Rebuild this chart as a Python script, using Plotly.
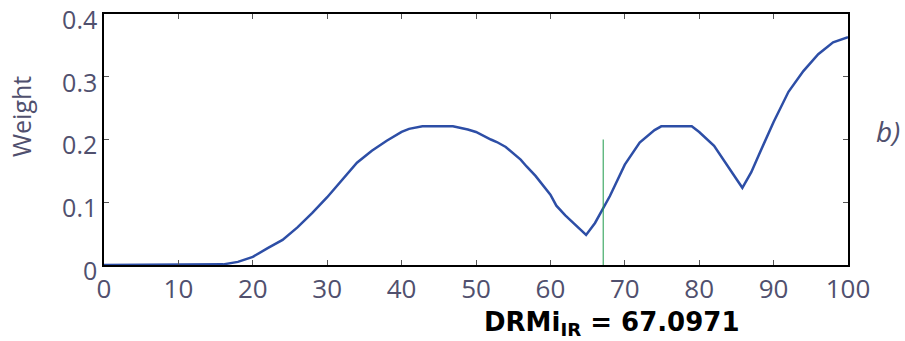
import plotly.graph_objects as go

# Weight profile over the 0-100 range
x_vals = [0, 5, 10, 15, 16, 18, 20, 22, 24, 26, 28, 30, 32, 34, 36, 38, 40, 41, 42.8, 46.9, 48.9,
          50, 52, 52.8, 54, 56, 56.8, 58, 60, 60.8, 62, 64, 64.8, 66, 67.1, 68, 70, 72, 74, 74.9,
          79, 80, 82, 84, 85, 85.8, 87, 88, 90, 92, 94, 96, 98, 100]
weights = [0, 0, 0, 0, 0.001, 0.005, 0.013, 0.027, 0.04, 0.06, 0.083, 0.108, 0.135, 0.163, 0.182,
           0.198, 0.212, 0.217, 0.221, 0.221, 0.216, 0.212, 0.2, 0.196, 0.188, 0.168, 0.157, 0.142,
           0.112, 0.0945, 0.079, 0.058, 0.048, 0.067, 0.092, 0.11, 0.16, 0.195, 0.215, 0.221,
           0.221, 0.212, 0.19, 0.156, 0.137, 0.123, 0.148, 0.175, 0.228, 0.276, 0.309, 0.336, 0.355, 0.363]

# Marker for the DRMi value
drmi = 67.0971
marker_x = [drmi, drmi]
marker_y = [0, 0.2]

x_ticks = [0, 10, 20, 30, 40, 50, 60, 70, 80, 90, 100]
y_ticks = [0, 0.1, 0.2, 0.3, 0.4]
y_tick_text = ["0", "0.1", "0.2", "0.3", "0.4"]

label_color = "#50506e"

fig = go.Figure()
fig.add_trace(go.Scatter(x=x_vals, y=weights, mode="lines",
                         line=dict(color="#2d4ea6", width=2.5), showlegend=False))
fig.add_trace(go.Scatter(x=marker_x, y=marker_y, mode="lines",
                         line=dict(color="#1e9a4a", width=1), showlegend=False))

axis_common = dict(showgrid=False, zeroline=False, showline=True, linecolor="black",
                   linewidth=1.5, mirror="ticks", ticks="inside", ticklen=5,
                   tickcolor="#555555", tickwidth=1, ticklabeloverflow="allow",
                   automargin=False)

fig.update_xaxes(range=[0, 100.0001], tickvals=x_ticks,
                 tickfont=dict(family="Open Sans", size=26, color=label_color),
                 **axis_common)
fig.update_yaxes(range=[0, 0.40001], tickvals=y_ticks, ticktext=y_tick_text,
                 ticklabelshift=6,
                 tickfont=dict(family="Open Sans", size=25, color=label_color),
                 **axis_common)

# Axis titles and panel tag
fig.add_annotation(text="Weight", xref="paper", yref="paper", textangle=-90,
                   x=-(104 - 21) / 744, y=(265 - 117) / 251, xanchor="center", yanchor="middle",
                   showarrow=False, font=dict(family="Open Sans", size=25, color=label_color))
fig.add_annotation(text="<b>DRMi<sub>IR</sub> = 67.0971</b>", xref="paper", yref="paper",
                   x=(611 - 104) / 744, y=-0.235, xanchor="center", yanchor="middle",
                   showarrow=False, font=dict(family="DejaVu Sans", size=26, color="black"))
fig.add_annotation(text="<i>b)</i>", xref="paper", yref="paper",
                   x=(888 - 104) / 744, y=(265 - 131) / 251, xanchor="center", yanchor="middle",
                   showarrow=False, font=dict(family="Open Sans", size=28, color=label_color))

fig.update_layout(width=905, height=341, margin=dict(l=104, r=57, t=14, b=76),
                  paper_bgcolor="white", plot_bgcolor="white")

fig.write_html("out.html")
